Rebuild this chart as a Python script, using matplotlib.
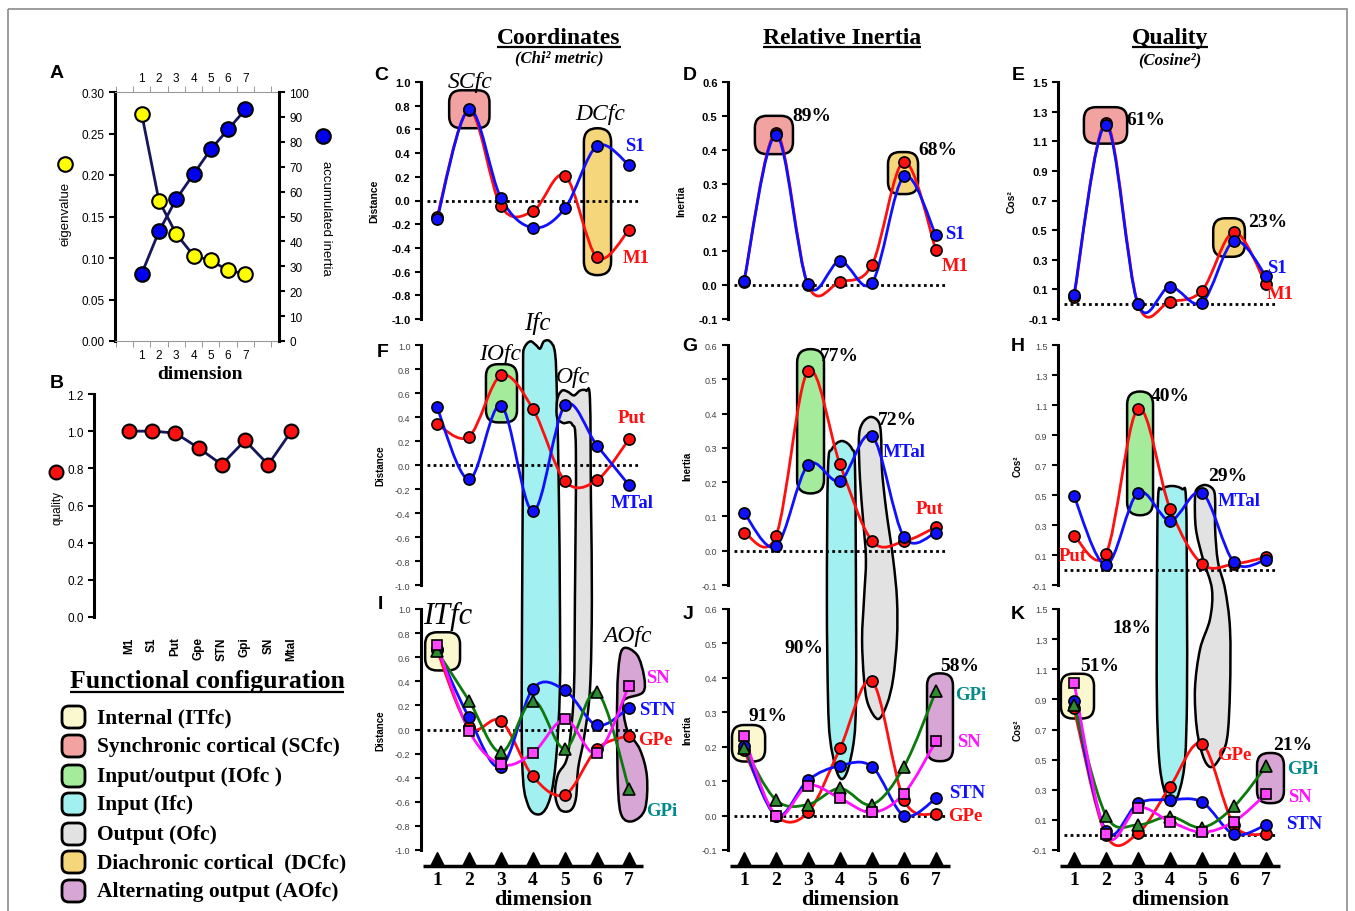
#!/usr/bin/env python3
"""Correspondence analysis figure: eigenvalues, quality and per-dimension panels."""

import numpy as np
import matplotlib
matplotlib.use('Agg')
import matplotlib.pyplot as plt
from matplotlib.path import Path
from matplotlib.patches import PathPatch, FancyBboxPatch, Rectangle
from matplotlib.transforms import blended_transform_factory

W, H = 1355, 912
SERIF = 'Liberation Serif'
SANS = 'Liberation Sans'
plt.rcParams['font.family'] = [SANS, 'DejaVu Sans']

RED = '#FF1010'
BLUE = '#1010FF'
GREEN = '#0B7A0B'
MAGENTA = '#FF10FF'
TEAL = '#008B8B'
NAVY = '#16165C'

# functional configuration fills
FC_IT = '#FBF8D0'
FC_SC = '#F3A2A2'
FC_IO = '#A4EC9C'
FC_I = '#A2F0F0'
FC_O = '#E2E2E2'
FC_DC = '#F6D67A'
FC_AO = '#D7A6D4'

dims = np.arange(1, 8)

# panel A
eigenvalue = [0.274, 0.169, 0.129, 0.103, 0.097, 0.085, 0.081]
accum_inertia = [27, 44, 57, 67, 77, 85, 93]

# panel B
regions = ['M1', 'S1', 'Put', 'Gpe', 'STN', 'Gpi', 'SN', 'Mtal']
quality = [1.0, 1.0, 0.99, 0.91, 0.82, 0.95, 0.82, 1.0]

# row 1 (C, D, E): M1 / S1
dist_M1 = [-0.14, 0.76, -0.05, -0.09, 0.21, -0.48, -0.25]
dist_S1 = [-0.16, 0.77, 0.02, -0.23, -0.065, 0.46, 0.30]
inert_M1 = [0.010, 0.450, 0.000, 0.010, 0.060, 0.365, 0.103]
inert_S1 = [0.012, 0.443, 0.002, 0.071, 0.007, 0.321, 0.147]
cos_M1 = [0.050, 1.225, 0.000, 0.018, 0.092, 0.487, 0.136]
cos_S1 = [0.063, 1.210, 0.000, 0.118, 0.011, 0.427, 0.190]

# row 2 (F, G, H): Put / MTal
dist_Put = [0.34, 0.237, 0.746, 0.466, -0.134, -0.126, 0.215]
dist_MTal = [0.48, -0.12, 0.494, -0.385, 0.497, 0.162, -0.168]
inert_Put = [0.053, 0.043, 0.524, 0.252, 0.029, 0.027, 0.069]
inert_MTal = [0.111, 0.013, 0.250, 0.204, 0.335, 0.040, 0.053]
cos_Put = [0.23, 0.108, 1.075, 0.41, 0.04, 0.04, 0.085]
cos_MTal = [0.492, 0.034, 0.515, 0.33, 0.515, 0.052, 0.068]

# row 3 (I, J, K): GPe / STN / GPi / SN
dist_GPe = [0.66, 0.02, 0.07, -0.39, -0.54, -0.16, -0.05]
dist_STN = [0.67, 0.10, -0.31, 0.34, 0.325, 0.035, 0.18]
dist_GPi = [0.65, 0.24, -0.19, 0.24, -0.16, 0.31, -0.49]
dist_SN = [0.70, -0.01, -0.29, -0.195, 0.085, -0.195, 0.365]
inert_GPe = [0.190, 0.000, 0.009, 0.195, 0.390, 0.045, 0.004]
inert_STN = [0.203, 0.000, 0.103, 0.145, 0.142, 0.000, 0.050]
inert_GPi = [0.197, 0.045, 0.032, 0.079, 0.032, 0.142, 0.362]
inert_SN = [0.231, 0.000, 0.087, 0.050, 0.009, 0.064, 0.216]
cos_GPe = [0.840, 0.000, 0.011, 0.320, 0.605, 0.067, 0.004]
cos_STN = [0.890, 0.027, 0.210, 0.233, 0.218, 0.004, 0.067]
cos_GPi = [0.862, 0.129, 0.067, 0.122, 0.049, 0.189, 0.456]
cos_SN = [1.011, 0.004, 0.182, 0.089, 0.018, 0.089, 0.271]

legend_labels = ['Internal (ITfc)', 'Synchronic cortical (SCfc)', 'Input/output (IOfc )',
                 'Input (Ifc)', 'Output (Ofc)', 'Diachronic cortical  (DCfc)',
                 'Alternating output (AOfc)']
legend_colors = [FC_IT, FC_SC, FC_IO, FC_I, FC_O, FC_DC, FC_AO]

# outlines of the configuration blobs that run from row 2 into row 3
# (in the data units of the row 2 panel)
IFC_F = [(3.69, 0.84), (3.72, 0.97), (3.91, 1.03), (4.09, 1.0), (4.22, 0.97), (4.34, 1.03),
         (4.53, 1.03), (4.69, 0.93), (4.75, 0.55), (4.81, -0.28), (4.84, -1.12), (4.84, -1.87),
         (4.72, -2.45), (4.53, -2.78), (4.22, -2.91), (3.84, -2.83), (3.66, -2.45),
         (3.66, -1.12), (3.69, 0.13)]
OFC_F = [(4.75, 0.40), (4.76, 0.55), (4.91, 0.62), (5.09, 0.61), (5.28, 0.58), (5.47, 0.62),
         (5.66, 0.62), (5.78, 0.55), (5.81, -0.28), (5.84, -1.12), (5.78, -1.87), (5.59, -2.28),
         (5.41, -2.53), (5.34, -2.78), (5.16, -2.88), (4.84, -2.87), (4.69, -2.74),
         (4.78, -2.58), (5.03, -2.47), (5.16, -2.28), (5.28, -1.87), (5.31, -1.12),
         (5.34, 0.13), (5.22, 0.34), (4.94, 0.35)]
IFC_G = [(3.625, 0.238), (3.75, 0.297), (4.06, 0.32), (4.375, 0.297), (4.47, 0.238),
         (4.5, -0.141), (4.5, -0.432), (4.44, -0.549), (4.25, -0.637), (4.06, -0.666),
         (3.875, -0.637), (3.69, -0.549), (3.625, -0.432), (3.59, -0.141)]
OFC_G = [(4.59, 0.326), (4.69, 0.37), (4.94, 0.39), (5.19, 0.378), (5.28, 0.34), (5.31, 0.238),
         (5.44, 0.122), (5.66, -0.024), (5.78, -0.141), (5.78, -0.257), (5.66, -0.374),
         (5.47, -0.447), (5.19, -0.491), (4.875, -0.447), (4.75, -0.374), (4.69, -0.257),
         (4.75, -0.141), (4.81, -0.024), (4.72, 0.092), (4.625, 0.209)]
IFC_H = [(3.625, 0.473), (3.75, 0.54), (4.06, 0.56), (4.375, 0.54), (4.5, 0.473),
         (4.53, -0.193), (4.53, -0.86), (4.47, -1.26), (4.31, -1.46), (4.06, -1.573),
         (3.81, -1.46), (3.66, -1.26), (3.59, -0.86), (3.59, -0.193)]
OFC_H = [(4.78, 0.473), (4.81, 0.273), (5.03, 0.073), (5.31, -0.127), (5.25, -0.327),
         (4.94, -0.527), (4.78, -0.793), (4.84, -1.06), (5.03, -1.24), (5.25, -1.313),
         (5.5, -1.273), (5.78, -1.127), (5.875, -0.793), (5.875, -0.393), (5.72, -0.127),
         (5.5, 0.053), (5.41, 0.273), (5.41, 0.473), (5.34, 0.54), (5.09, 0.567), (4.84, 0.54)]
AOFC_I = [(6.81, 0.67), (7.25, 0.62), (7.47, 0.44), (7.44, 0.31), (6.94, 0.26), (6.81, 0.21),
          (6.94, 0.0), (7.34, -0.165), (7.56, -0.39), (7.5, -0.66), (7.125, -0.76),
          (6.78, -0.72), (6.66, -0.50), (6.625, 0.06), (6.66, 0.47)]


def smooth_path(xs, ys, closed=False):
    p = np.column_stack([xs, ys]).astype(float)
    n = len(p)
    verts = [p[0]]
    codes = [Path.MOVETO]
    for i in range(n if closed else n - 1):
        p0 = p[(i - 1) % n] if (closed or i > 0) else p[0]
        p1 = p[i]
        p2 = p[(i + 1) % n]
        p3 = p[(i + 2) % n] if (closed or i + 2 < n) else p[-1]
        verts += [p1 + (p2 - p0) / 6, p2 - (p3 - p1) / 6, p2]
        codes += [Path.CURVE4] * 3
    if closed:
        verts.append(p[0])
        codes.append(Path.CLOSEPOLY)
    return Path(np.array(verts), codes)


def rect(l, t, r, b):
    return [l / W, 1 - b / H, (r - l) / W, (b - t) / H]


def fmt1(v):
    return f'{float(v) + 0.0:.1f}'


fig = plt.figure(figsize=(W / 100, H / 100), dpi=100)
fig.patch.set_facecolor('white')

# pixel overlay for headers and legend
ov = fig.add_axes([0, 0, 1, 1])
ov.set_xlim(0, W)
ov.set_ylim(H, 0)
ov.axis('off')
ov.add_patch(Rectangle((8, 10), 1339, 920, fc='none', ec='#8C8C8C', lw=1.2, clip_on=False))

# ---------------- panel A ----------------
ax_a = fig.add_axes(rect(115, 93, 279, 342))
ax_a.patch.set_alpha(0)
ax_a.plot(dims, eigenvalue, color=NAVY, lw=2, marker='o', ms=10.5, mfc='#FFFF00',
          mec='k', mew=1.5, zorder=3, clip_on=False)
ax_a.set_xlim(-0.54, 8.94)
ax_a.set_ylim(0, 0.30)
yt = np.round(np.arange(0, 0.301, 0.05), 2)
ax_a.set_yticks(yt)
ax_a.set_yticklabels([f'{v:.2f}' for v in yt])
ax_a.set_xticks(dims)
ax_a.set_xticks(np.arange(-0.5, 9, 1), minor=True)
ax_a.tick_params(axis='x', which='major', length=0, top=True, labeltop=True,
                 labelsize=8.5, pad=6)
ax_a.tick_params(axis='x', which='minor', length=4, color='#888888', top=True)
ax_a.tick_params(axis='y', length=4, width=1.5, labelsize=8.5)
for s in ('top', 'bottom'):
    ax_a.spines[s].set_color('#999999')
ax_a.spines['left'].set_linewidth(2.2)
ax_a.spines['right'].set_visible(False)

ax_a2 = ax_a.twinx()
ax_a2.plot(dims, accum_inertia, color=NAVY, lw=2, marker='o', ms=10.5, mfc='#0000EE',
           mec='k', mew=1.5, zorder=3, clip_on=False)
ax_a2.set_ylim(0, 100)
ax_a2.set_yticks(range(0, 101, 10))
ax_a2.tick_params(axis='y', length=4, width=1.5, labelsize=8.5)
for s in ('top', 'bottom', 'left'):
    ax_a2.spines[s].set_visible(False)
ax_a2.spines['right'].set_linewidth(2.2)

ov.text(65, 214, 'eigenvalue', rotation=90, ha='center', va='center', fontsize=9.5)
ov.plot([65], [165], 'o', ms=10.5, mfc='#FFFF00', mec='k', mew=1.5)
ov.text(326, 218, 'accumulated inertia', rotation=270, ha='center', va='center', fontsize=9.5)
ov.plot([323], [137], 'o', ms=10.5, mfc='#0000EE', mec='k', mew=1.5)
ov.text(200, 375, 'dimension', ha='center', va='center', fontfamily=SERIF,
        fontweight='bold', fontsize=14)

# ---------------- panel B ----------------
ax_b = fig.add_axes(rect(94, 395, 310, 618))
ax_b.patch.set_alpha(0)
ax_b.plot(np.arange(len(regions)), quality, color=NAVY, lw=2, marker='o', ms=10,
          mfc=RED, mec='k', mew=1.5, clip_on=False)
ax_b.set_xlim(-1.5, 7.8)
ax_b.set_ylim(0, 1.2)
yt = np.round(np.arange(0, 1.21, 0.2), 1)
ax_b.set_yticks(yt)
ax_b.set_yticklabels([fmt1(v) for v in yt])
ax_b.set_xticks(np.arange(len(regions)))
ax_b.set_xticklabels(regions, rotation=90, fontweight='bold', fontsize=8.5)
ax_b.tick_params(axis='x', length=0, pad=14)
ax_b.tick_params(axis='y', length=4, width=1.5, labelsize=8.5)
for s in ('top', 'right', 'bottom'):
    ax_b.spines[s].set_visible(False)
ax_b.spines['left'].set_linewidth(2.2)
ov.text(58, 508, 'quality', rotation=90, ha='center', va='center', fontsize=8.5)
ov.plot([56], [473], 'o', ms=10, mfc=RED, mec='k', mew=1.5)

# panel letters
for letter, x, y in [('A', 57, 74), ('B', 57, 384), ('C', 381, 75), ('D', 690, 75),
                     ('E', 1018, 75), ('F', 383, 353), ('G', 690, 347), ('H', 1018, 347),
                     ('I', 380, 605), ('J', 688, 615), ('K', 1018, 615)]:
    ov.text(x, y, letter, ha='center', va='center', fontsize=14, fontweight='bold')

# ---------------- panels C..K ----------------
col_left = [421, 728, 1058]
rows = [(83, 320), (346, 586), (610, 851)]
PW = 224
ylims = [(-1.0, 1.0), (-0.1, 0.6), (-0.1, 1.5)]
yticks = [np.round(np.arange(-1.0, 1.01, 0.2), 1),
          np.round(np.arange(-0.1, 0.61, 0.1), 1),
          np.round(np.arange(-0.1, 1.51, 0.2), 1)]
ylabels = ['Distance', 'Inertia', 'Cos²']

axs = {}
for r, (top, bot) in enumerate(rows):
    for c, left in enumerate(col_left):
        ax = fig.add_axes(rect(left, top, left + PW, bot))
        ax.patch.set_alpha(0)
        ax.set_xlim(0.5, 7.5)
        ax.set_ylim(*ylims[c])
        for s in ('top', 'right', 'bottom'):
            ax.spines[s].set_visible(False)
        ax.spines['left'].set_linewidth(2.2)
        ax.set_xticks([])
        ax.set_yticks(yticks[c])
        if r == 0:
            ax.set_yticklabels([fmt1(v) for v in yticks[c]], fontweight='bold', fontsize=8)
            ax.set_ylabel(ylabels[c], fontweight='bold', fontsize=7.5)
            ax.yaxis.set_label_coords(-0.185, 0.5)
        else:
            ax.set_yticklabels([fmt1(v) for v in yticks[c]], fontsize=6.5, color='#444444')
            ax.set_ylabel(ylabels[c], fontweight='bold', fontsize=7)
            ax.yaxis.set_label_coords(-0.16, 0.5)
        ax.tick_params(axis='y', direction='out', length=4, width=1.5)
        ax.plot([0.7, 7.35], [0, 0], ls=(0, (1, 1.2)), color='k', lw=2, zorder=2)
        axs[(r, c)] = ax


def px_per_unit(ax):
    key = [k for k, v in axs.items() if v is ax][0]
    top, bot = rows[key[0]]
    lo, hi = ylims[key[1]]
    return PW / 7.0, (bot - top) / (hi - lo)


def series(ax, vals, color, marker='o', mfc=None, ms=8):
    ax.add_patch(PathPatch(smooth_path(dims, vals), fc='none', ec=color, lw=2,
                           zorder=3, clip_on=False))
    ax.plot(dims, vals, ls='none', marker=marker, ms=ms, mfc=mfc or color, mec='k',
            mew=1.2, zorder=4, clip_on=False)


def blob(ax, pts, color):
    xs, ys = zip(*pts)
    ax.add_patch(PathPatch(smooth_path(xs, ys, closed=True), fc=color, ec='k', lw=1.8,
                           zorder=1, clip_on=False))


def rbox(ax, x0, x1, y0, y1, color, r_px=12):
    xpx, ypx = px_per_unit(ax)
    r_px = min(r_px, (x1 - x0) * xpx / 2, (y1 - y0) * ypx / 2)
    ax.add_patch(FancyBboxPatch((x0, y0), x1 - x0, y1 - y0,
                                boxstyle=f'round,pad=0,rounding_size={r_px / xpx}',
                                mutation_aspect=xpx / ypx, fc=color, ec='k', lw=1.8,
                                zorder=1, clip_on=False))


def lab(ax, x, y, s, color='k', size=13.5, ha='left', italic=False):
    ax.text(x, y, s, color=color, fontsize=size, fontfamily=SERIF,
            fontweight='normal' if italic else 'bold',
            fontstyle='italic' if italic else 'normal', ha=ha, va='center', zorder=6)


# C
ax = axs[(0, 0)]
rbox(ax, 1.38, 2.64, 0.61, 0.93, FC_SC)
rbox(ax, 5.59, 6.44, -0.63, 0.61, FC_DC, 20)
series(ax, dist_M1, RED)
series(ax, dist_S1, BLUE)
lab(ax, 2.03, 1.0, 'SCfc', size=17, ha='center', italic=True)
lab(ax, 6.09, 0.73, 'DCfc', size=17, ha='center', italic=True)
lab(ax, 6.875, 0.46, 'S1', BLUE)
lab(ax, 6.81, -0.485, 'M1', RED)

# D
ax = axs[(0, 1)]
rbox(ax, 1.34, 2.53, 0.387, 0.50, FC_SC)
rbox(ax, 5.5, 6.44, 0.269, 0.393, FC_DC)
series(ax, inert_M1, RED)
series(ax, inert_S1, BLUE)
lab(ax, 2.5, 0.50, '89%', size=14)
lab(ax, 6.44, 0.40, '68%', size=14)
lab(ax, 7.28, 0.154, 'S1', BLUE)
lab(ax, 7.19, 0.059, 'M1', RED)

# E
ax = axs[(0, 2)]
rbox(ax, 1.31, 2.66, 1.084, 1.33, FC_SC)
rbox(ax, 5.35, 6.34, 0.32, 0.58, FC_DC)
series(ax, cos_M1, RED)
series(ax, cos_S1, BLUE)
lab(ax, 2.63, 1.25, '61%', size=14)
lab(ax, 6.44, 0.56, '23%', size=14)
lab(ax, 7.03, 0.25, 'S1', BLUE)
lab(ax, 7.03, 0.07, 'M1', RED)

# F
ax = axs[(1, 0)]
blob(ax, IFC_F, FC_I)
blob(ax, OFC_F, FC_O)
rbox(ax, 2.53, 3.5, 0.355, 0.84, FC_IO)
series(ax, dist_Put, RED)
series(ax, dist_MTal, BLUE)
lab(ax, 2.97, 0.93, 'IOfc', size=17, ha='center', italic=True)
lab(ax, 4.13, 1.19, 'Ifc', size=18, ha='center', italic=True)
lab(ax, 5.25, 0.74, 'Ofc', size=17, ha='center', italic=True)
lab(ax, 6.66, 0.40, 'Put', RED)
lab(ax, 6.44, -0.31, 'MTal', BLUE)

# G
ax = axs[(1, 1)]
blob(ax, IFC_G, FC_I)
blob(ax, OFC_G, FC_O)
rbox(ax, 2.66, 3.5, 0.167, 0.588, FC_IO, 20)
series(ax, inert_Put, RED)
series(ax, inert_MTal, BLUE)
lab(ax, 3.38, 0.568, '77%', size=14)
lab(ax, 5.19, 0.382, '72%', size=14)
lab(ax, 5.34, 0.289, 'MTal', BLUE)
lab(ax, 6.375, 0.123, 'Put', RED)

# H
ax = axs[(1, 2)]
blob(ax, IFC_H, FC_I)
blob(ax, OFC_H, FC_O)
rbox(ax, 2.66, 3.47, 0.365, 1.19, FC_IO, 20)
series(ax, cos_Put, RED)
series(ax, cos_MTal, BLUE)
lab(ax, 3.41, 1.165, '40%', size=14)
lab(ax, 5.19, 0.633, '29%', size=14)
lab(ax, 5.5, 0.465, 'MTal', BLUE)
lab(ax, 0.53, 0.097, 'Put', RED)

# I
ax = axs[(2, 0)]
rbox(ax, 0.63, 1.72, 0.49, 0.807, FC_IT)
blob(ax, AOFC_I, FC_AO)
series(ax, dist_GPe, RED)
series(ax, dist_STN, BLUE)
series(ax, dist_GPi, GREEN, '^', '#2E8B2E', 8.5)
series(ax, dist_SN, MAGENTA, 's', '#FF44FF', 7.5)
lab(ax, 1.34, 0.945, 'ITfc', size=22, ha='center', italic=True)
lab(ax, 6.94, 0.78, 'AOfc', size=17, ha='center', italic=True)
lab(ax, 7.53, 0.43, 'SN', MAGENTA)
lab(ax, 7.31, 0.17, 'STN', BLUE)
lab(ax, 7.28, -0.08, 'GPe', RED)
lab(ax, 7.53, -0.67, 'GPi', TEAL)

# J
ax = axs[(2, 1)]
rbox(ax, 0.625, 1.66, 0.157, 0.263, FC_IT)
rbox(ax, 6.72, 7.53, 0.158, 0.413, FC_AO)
series(ax, inert_GPe, RED)
series(ax, inert_STN, BLUE)
series(ax, inert_GPi, GREEN, '^', '#2E8B2E', 8.5)
series(ax, inert_SN, MAGENTA, 's', '#FF44FF', 7.5)
lab(ax, 1.125, 0.292, '91%', size=14)
lab(ax, 2.28, 0.488, '90%', size=14)
lab(ax, 7.125, 0.435, '58%', size=14)
lab(ax, 7.6, 0.352, 'GPi', TEAL)
lab(ax, 7.66, 0.215, 'SN', MAGENTA)
lab(ax, 7.4, 0.068, 'STN', BLUE)
lab(ax, 7.375, 0.0, 'GPe', RED)

# K
ax = axs[(2, 2)]
rbox(ax, 0.59, 1.625, 0.773, 1.07, FC_IT)
rbox(ax, 6.72, 7.56, 0.211, 0.544, FC_AO)
series(ax, cos_GPe, RED)
series(ax, cos_STN, BLUE)
series(ax, cos_GPi, GREEN, '^', '#2E8B2E', 8.5)
series(ax, cos_SN, MAGENTA, 's', '#FF44FF', 7.5)
lab(ax, 1.19, 1.127, '51%', size=14)
lab(ax, 2.19, 1.378, '18%', size=14)
lab(ax, 7.22, 0.6, '21%', size=14)
lab(ax, 5.47, 0.533, 'GPe', RED)
lab(ax, 7.66, 0.444, 'GPi', TEAL)
lab(ax, 7.69, 0.256, 'SN', MAGENTA)
lab(ax, 7.625, 0.078, 'STN', BLUE)

# dimension band under row 3
for c in range(3):
    ax = axs[(2, c)]
    tr = blended_transform_factory(ax.transData, ax.transAxes)
    ax.plot([0.56, 7.44], [-0.066, -0.066], color='k', lw=2.5, transform=tr,
            clip_on=False, solid_capstyle='butt')
    ax.plot(dims, np.full(len(dims), -0.036), ls='none', marker='^', ms=9.5, color='k',
            transform=tr, clip_on=False)
    for d in dims:
        ax.text(d, -0.122, str(d), transform=tr, ha='center', va='center',
                fontfamily=SERIF, fontweight='bold', fontsize=14)
    ax.text(4.3, -0.203, 'dimension', transform=tr, ha='center', va='center',
            fontfamily=SERIF, fontweight='bold', fontsize=16)

# ---------------- headers ----------------
headers = []
for txt, x in [('Coordinates', 559), ('Relative Inertia', 842), ('Quality', 1170)]:
    headers.append(ov.text(x, 44, txt, ha='center', va='baseline', fontfamily=SERIF,
                           fontweight='bold', fontsize=17))
ov.text(559, 58, '(Chi² metric)', ha='center', va='center', fontfamily=SERIF,
        fontweight='bold', fontstyle='italic', fontsize=12)
ov.text(1170, 60, '(Cosine²)', ha='center', va='center', fontfamily=SERIF,
        fontweight='bold', fontstyle='italic', fontsize=12)

# ---------------- functional configuration legend ----------------
headers.append(ov.text(207, 688, 'Functional configuration', ha='center', va='baseline',
                       fontfamily=SERIF, fontweight='bold', fontsize=18.5))
row_y = [718, 747, 777, 805, 835, 863, 892]
for yc, name, color in zip(row_y, legend_labels, legend_colors):
    ov.add_patch(FancyBboxPatch((62, yc - 11), 23, 22, boxstyle='round,pad=0,rounding_size=7',
                                fc=color, ec='k', lw=2))
    ov.text(97, yc, name, ha='left', va='center', fontfamily=SERIF, fontweight='bold',
            fontsize=15.5)

fig.canvas.draw()
for t, uy in zip(headers, [47.5, 47.5, 47.5, 693]):
    bb = t.get_window_extent()
    ov.plot([bb.x0, bb.x1], [uy, uy], color='k', lw=1.6, solid_capstyle='butt')

fig.savefig('out.png', dpi=100)
